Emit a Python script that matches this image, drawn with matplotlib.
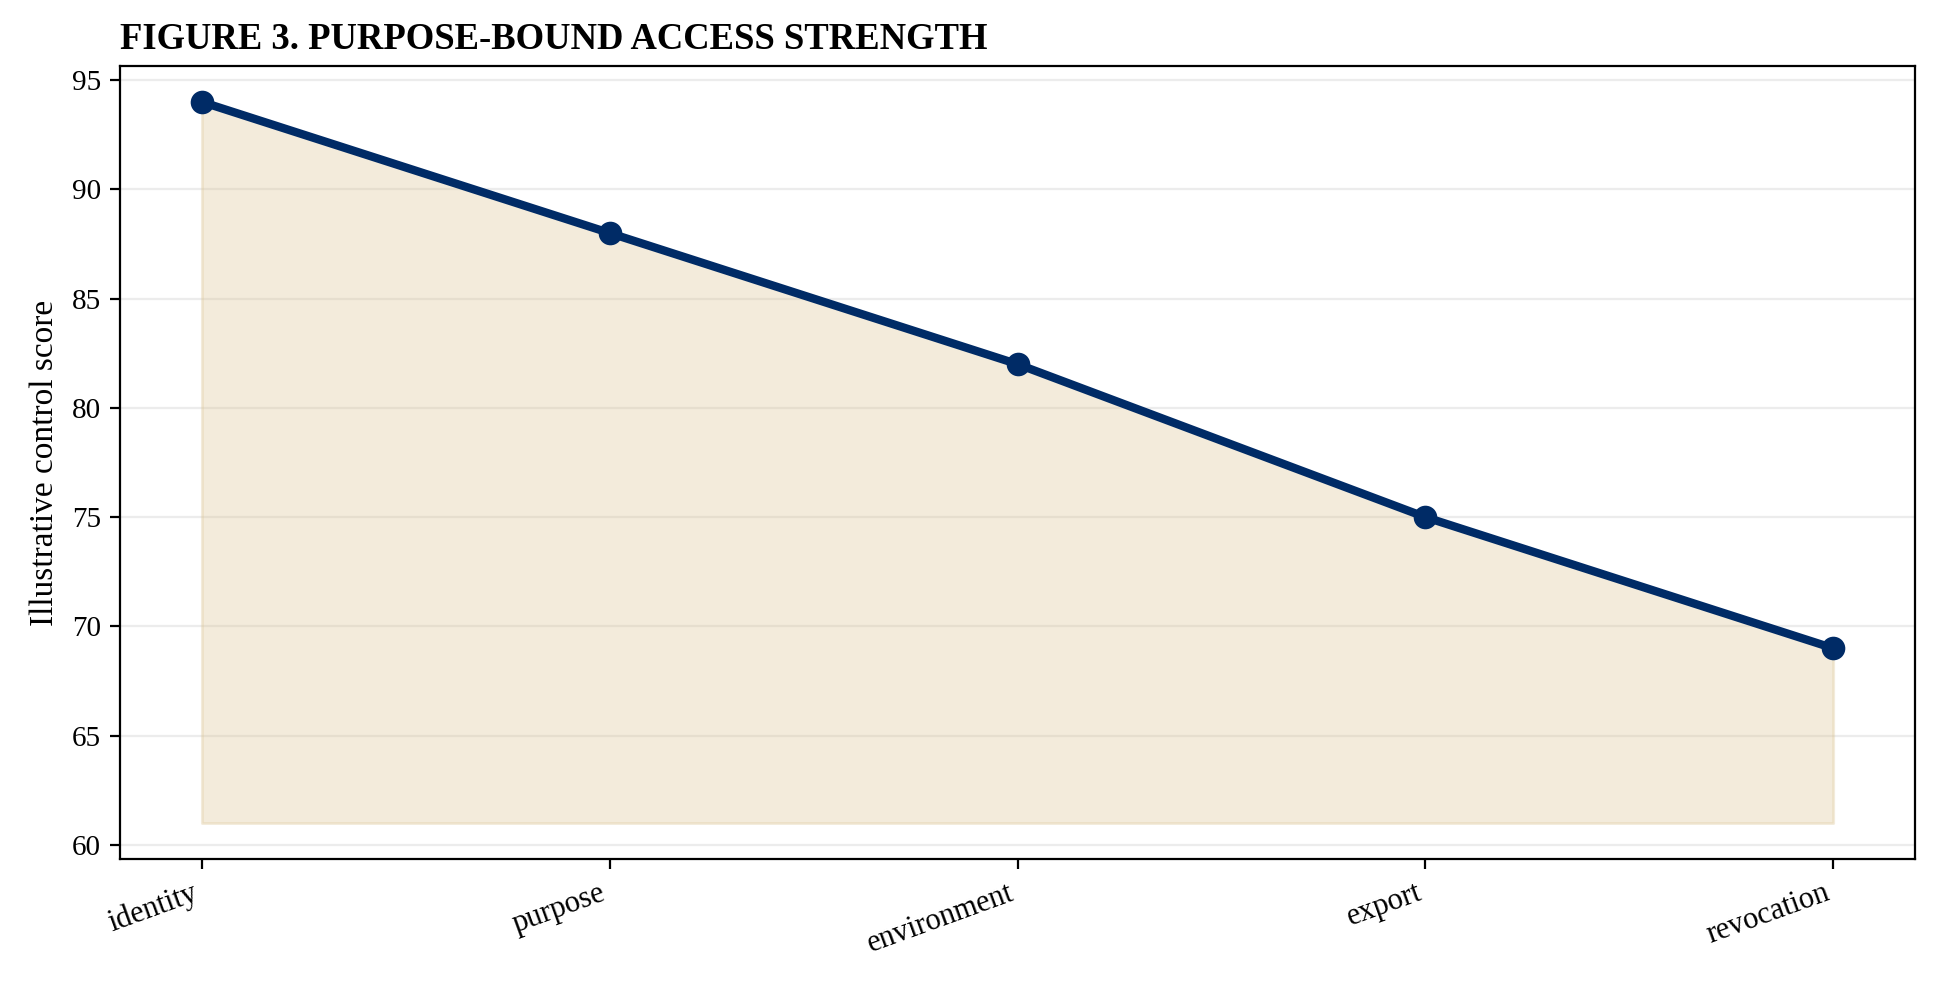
import numpy as np
import matplotlib.pyplot as plt

# Datos
categorias = ['identity', 'purpose', 'environment', 'export', 'revocation']
puntajes = [94, 88, 82, 75, 69]
base = 61

plt.rcParams['font.family'] = ['Liberation Serif', 'DejaVu Serif']

fig, ax = plt.subplots(figsize=(9.7, 4.915), dpi=200)
fig.subplots_adjust(left=0.062, right=0.987, top=0.933, bottom=0.126)

x = np.arange(len(categorias))
ax.fill_between(x, puntajes, base, color='#d9c08a', alpha=0.3, linewidth=1)
ax.plot(x, puntajes, color='#002b66', linewidth=3, marker='o', markersize=7.5)

ax.set_xticks(x)
ax.set_xticklabels(categorias, rotation=20, ha='right', fontsize=11)
ax.tick_params(axis='y', labelsize=10.5)
ax.set_ylabel('Illustrative control score', fontsize=12)
ax.set_title('FIGURE 3. PURPOSE-BOUND ACCESS STRENGTH', loc='left',
             fontweight='bold', fontsize=13.2)
ax.grid(True, axis='y', color='#ececec', linewidth=0.8)
ax.set_axisbelow(True)

plt.savefig('out.png', dpi=200)
